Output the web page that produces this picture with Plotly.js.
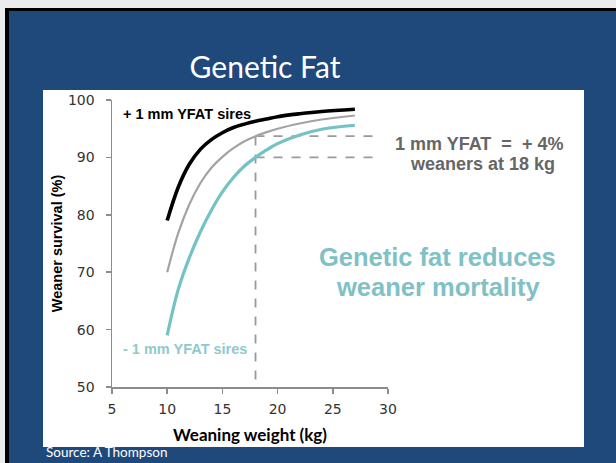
<!DOCTYPE html>
<html>
<head>
<meta charset="utf-8">
<script src="https://cdn.plot.ly/plotly-3.0.1.min.js"></script>
<style>
  html, body { margin: 0; padding: 0; width: 616px; height: 463px; overflow: hidden; background: #ececec; }
  #frame { position: absolute; left: 5px; top: 8px; width: 611px; height: 455px; background: #000; }
  #slide { position: absolute; left: 9px; top: 11px; width: 607px; height: 452px; background: #1f487b; }
  #card { position: absolute; left: 43px; top: 90px; width: 541px; height: 357px; background: #ffffff; }
  #chart { position: absolute; left: 0; top: 0; width: 616px; height: 463px; }
</style>
</head>
<body>
<div id="frame"></div>
<div id="slide"></div>
<div id="card"></div>
<div id="chart"></div>
<script>
// Weaning weight (kg)
const weights = [10, 11, 12, 13, 14, 15, 16, 17, 18, 19, 20, 22, 24, 27];
// Weaner survival (%) by sire YFAT
const plusOneSurvival  = [79, 84.8, 88.8, 91.4, 93.1, 94.3, 95.2, 95.8, 96.3, 96.7, 97.1, 97.6, 98.0, 98.4];
const averageSurvival  = [70, 76.8, 81.8, 85.5, 88.2, 90.1, 91.6, 92.8, 93.7, 94.4, 95.0, 95.9, 96.6, 97.3];
const minusOneSurvival = [59, 67, 72.5, 77, 80.8, 84, 86.5, 88.5, 90, 91.3, 92.4, 93.9, 94.9, 95.6];
const xTicks = [5, 10, 15, 20, 25, 30];
const yTicks = [50, 60, 70, 80, 90, 100];
const refWeight = 18;
const refLevels = [93.7, 90];
const refLineEnd = 29.2;

const traces = [
  { x: weights, y: minusOneSurvival, mode: 'lines', line: { color: '#74c2c4', width: 3.2, shape: 'spline' }, hoverinfo: 'none' },
  { x: weights, y: averageSurvival, mode: 'lines', line: { color: '#a3a3a3', width: 2.2, shape: 'spline' }, hoverinfo: 'none' },
  { x: weights, y: plusOneSurvival, mode: 'lines', line: { color: '#000000', width: 3.6, shape: 'spline' }, hoverinfo: 'none' }
];

const dash = { color: '#9a9a9a', width: 1.8, dash: 'dash' };
const shapes = [
  { type: 'line', xref: 'x', yref: 'y', x0: refWeight, x1: refWeight, y0: 51.3, y1: refLevels[0] + 0.3, line: dash, layer: 'below' }
].concat(refLevels.map(v => ({ type: 'line', xref: 'x', yref: 'y', x0: refWeight, x1: refLineEnd, y0: v, y1: v, line: dash, layer: 'below' })));

const arial = 'Liberation Sans, Arial, sans-serif';
const layout = {
  width: 616, height: 463,
  paper_bgcolor: 'rgba(0,0,0,0)', plot_bgcolor: 'rgba(0,0,0,0)',
  margin: { l: 112, r: 228, t: 100, b: 76 },
  showlegend: false,
  title: { text: 'Genetic Fat', font: { family: 'Lato, sans-serif', size: 30, color: '#ffffff' },
           xref: 'container', yref: 'container', x: 265 / 616, xanchor: 'center', y: 1 - 67 / 463, yanchor: 'middle' },
  xaxis: {
    range: [5, 30], tickvals: xTicks, ticktext: xTicks.map(String),
    showline: true, linecolor: '#8c8c8c', linewidth: 1.5, ticks: 'outside', ticklen: 5, tickcolor: '#8c8c8c', tickwidth: 1.5,
    showgrid: false, zeroline: false, ticklabelstandoff: 4,
    tickfont: { family: 'DejaVu Sans, sans-serif', size: 14, color: '#333333' },
    title: { text: 'Weaning weight (kg)', font: { family: 'Lato, sans-serif', size: 17, color: '#000000', weight: 'bold' }, standoff: 13 }
  },
  yaxis: {
    range: [50, 100], tickvals: yTicks, ticktext: yTicks.map(String),
    showline: true, linecolor: '#8c8c8c', linewidth: 1.5, ticks: 'outside', ticklen: 5, tickcolor: '#8c8c8c', tickwidth: 1.5,
    showgrid: false, zeroline: false, ticklabelstandoff: 8,
    tickfont: { family: 'DejaVu Sans, sans-serif', size: 14, color: '#333333' },
    title: { text: 'Weaner survival (%)', font: { family: arial, size: 14.5, color: '#000000', weight: 'bold' }, standoff: 2 }
  },
  shapes: shapes,
  annotations: [
    { xref: 'x', yref: 'y', x: 5.8, y: 97.6, xanchor: 'left', yanchor: 'middle', showarrow: false,
      text: '<b>+ 1 mm YFAT sires</b>', font: { family: arial, size: 14.5, color: '#000000' } },
    { xref: 'x', yref: 'y', x: 5.8, y: 56.6, xanchor: 'left', yanchor: 'middle', showarrow: false,
      text: '<b>- 1 mm YFAT sires</b>', font: { family: arial, size: 14.5, color: '#8fcacc' } },
    { xref: 'paper', yref: 'paper', x: 1.330, y: 0.847, xanchor: 'center', yanchor: 'middle', showarrow: false,
      text: '<b>1 mm YFAT\u00a0\u00a0=\u00a0\u00a0+ 4%</b>', font: { family: arial, size: 18, color: '#666666' } },
    { xref: 'paper', yref: 'paper', x: 1.341, y: 0.777, xanchor: 'center', yanchor: 'middle', showarrow: false,
      text: '<b>weaners at 18 kg</b>', font: { family: arial, size: 18, color: '#666666' } },
    { xref: 'paper', yref: 'paper', x: 1.181, y: (387 - 257) / 287, xanchor: 'center', yanchor: 'middle', showarrow: false,
      text: '<b>Genetic fat reduces</b>', font: { family: arial, size: 25.5, color: '#7fc1c5' } },
    { xref: 'paper', yref: 'paper', x: 1.181, y: (387 - 287) / 287, xanchor: 'center', yanchor: 'middle', showarrow: false,
      text: '<b>weaner mortality</b>', font: { family: arial, size: 25.5, color: '#7fc1c5' } },
    { xref: 'paper', yref: 'paper', x: -68 / 276, y: -75 / 287, xanchor: 'left', yanchor: 'bottom', showarrow: false,
      text: 'Source: A Thompson', font: { family: 'Lato, sans-serif', size: 13.5, color: '#ffffff' } }
  ]
};

Plotly.newPlot('chart', traces, layout, { staticPlot: true, displayModeBar: false });
</script>
</body>
</html>
